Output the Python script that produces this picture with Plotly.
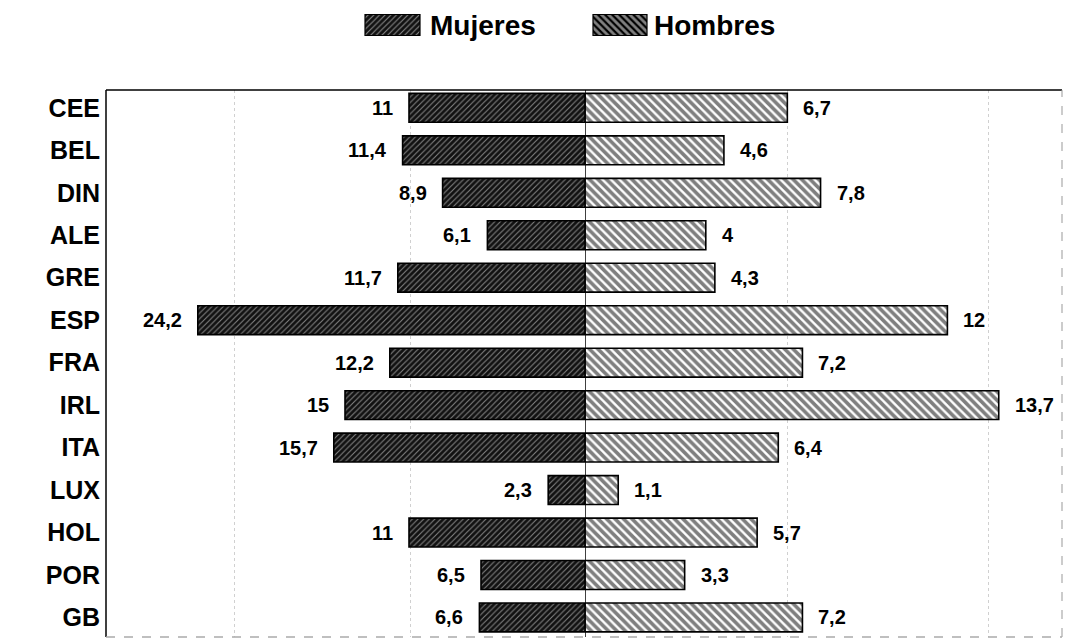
import plotly.graph_objects as go

categories = ["CEE", "BEL", "DIN", "ALE", "GRE", "ESP", "FRA", "IRL", "ITA", "LUX", "HOL", "POR", "GB"]
mujeres = [11, 11.4, 8.9, 6.1, 11.7, 24.2, 12.2, 15, 15.7, 2.3, 11, 6.5, 6.6]
hombres = [6.7, 4.6, 7.8, 4, 4.3, 12, 7.2, 13.7, 6.4, 1.1, 5.7, 3.3, 7.2]
series_names = ["Mujeres", "Hombres"]

FONT = "Liberation Sans, Arial, sans-serif"
W, H = 1066, 639
ML, MR, MT, MB = 106, 4, 0, 2
plot_w = W - ML - MR
plot_h = H - MT - MB
main_top_px = 90
dom_top = (plot_h - main_top_px) / plot_h
split = (585 - ML) / plot_w

def fmt(v):
    return f"{v:g}".replace(".", ",")

muj_pattern = dict(shape="/", bgcolor="#111111", fgcolor="#f0f0f0", size=4, solidity=0.28)
hom_pattern = dict(shape="\\", bgcolor="white", fgcolor="black", size=6, solidity=0.6)
line = dict(color="black", width=1.6)

fig = go.Figure()
fig.add_trace(go.Bar(
    y=categories, x=[-v for v in mujeres], orientation="h", width=0.68,
    marker=dict(pattern=muj_pattern, line=line, color="#111111"),
    xaxis="x", yaxis="y", showlegend=False, name=series_names[0], hoverinfo="skip"))
fig.add_trace(go.Bar(
    y=categories, x=hombres, orientation="h", width=0.68,
    marker=dict(pattern=hom_pattern, line=line, color="black"),
    xaxis="x2", yaxis="y", showlegend=False, name=series_names[1], hoverinfo="skip"))

# legend swatches on an auxiliary axis (pixel-like units)
fig.add_trace(go.Bar(
    y=[25, 25], x=[55, 54], base=[259, 487], orientation="h", width=[21, 21],
    marker=dict(pattern=dict(shape=["/", "\\"], bgcolor=["#111111", "white"],
                             fgcolor=["#f0f0f0", "black"], size=[4, 5], solidity=[0.28, 0.55]),
                line=dict(color="black", width=1.2), color=["#111111", "black"]),
    xaxis="x3", yaxis="y3", showlegend=False, hoverinfo="skip"))

annotations = []
for c, v in zip(categories, mujeres):
    annotations.append(dict(x=-v, y=c, xref="x", yref="y", text=fmt(v), showarrow=False,
                            xanchor="right", xshift=-14,
                            font=dict(family=FONT, size=20, color="black", weight="bold")))
for c, v in zip(categories, hombres):
    annotations.append(dict(x=v, y=c, xref="x2", yref="y", text=fmt(v), showarrow=False,
                            xanchor="left", xshift=14,
                            font=dict(family=FONT, size=20, color="black", weight="bold")))
for name, xp in zip(series_names, [322, 546]):
    annotations.append(dict(x=xp, y=25, xref="x3", yref="y3", text=name, showarrow=False,
                            xanchor="left", yanchor="middle",
                            font=dict(family=FONT, size=28, color="black", weight="bold")))

shapes = [
    dict(type="line", xref="x2", yref="y domain", x0=0, x1=0, y0=0, y1=1,
         line=dict(color="black", width=1.5)),
    dict(type="line", xref="paper", yref="y domain", x0=0, x1=1, y0=1, y1=1,
         line=dict(color="black", width=1.5)),
    dict(type="line", xref="paper", yref="y domain", x0=0, x1=0, y0=0, y1=1,
         line=dict(color="black", width=1.5)),
    dict(type="line", xref="paper", yref="y domain", x0=1, x1=1, y0=0, y1=1,
         line=dict(color="#999", width=1, dash="dash")),
    dict(type="line", xref="paper", yref="y domain", x0=0, x1=1, y0=0, y1=0,
         line=dict(color="#aaa", width=1.5, dash="dash")),
]

fig.update_layout(
    width=W, height=H,
    margin=dict(l=ML, r=MR, t=MT, b=MB),
    paper_bgcolor="white", plot_bgcolor="white",
    barmode="overlay",
    showlegend=False,
    xaxis=dict(domain=[0, split], range=[-(585 - ML) / 16.0, 0], anchor="y",
               tickvals=[-21.9, -10.9], showticklabels=False, ticks="",
               showgrid=True, gridcolor="#d0d0d0", gridwidth=1, griddash="dot",
               zeroline=False, showline=False, fixedrange=True),
    xaxis2=dict(domain=[split, 1], range=[0, (ML + plot_w - 585) / 30.2], anchor="y",
                tickvals=[6.7, 13.35], showticklabels=False, ticks="",
                showgrid=True, gridcolor="#d0d0d0", gridwidth=1, griddash="dot",
                zeroline=False, showline=False, fixedrange=True),
    yaxis=dict(domain=[0, dom_top], categoryorder="array", categoryarray=categories,
               range=[12.46, -0.42], showgrid=False, zeroline=False, showline=False,
               ticks="", ticklabelstandoff=5,
               tickfont=dict(family=FONT, size=25, color="black", weight="bold")),
    xaxis3=dict(domain=[0, 1], range=[0, plot_w], anchor="y3", visible=False, fixedrange=True),
    yaxis3=dict(domain=[(plot_h - 52) / plot_h, 1], range=[52, 0], anchor="x3",
                visible=False, fixedrange=True),
    annotations=annotations,
    shapes=shapes,
)

fig.write_html("out.html",
               config={"displayModeBar": False, "staticPlot": True},
               post_script="document.body.style.margin='0px';document.body.style.overflow='hidden';")
